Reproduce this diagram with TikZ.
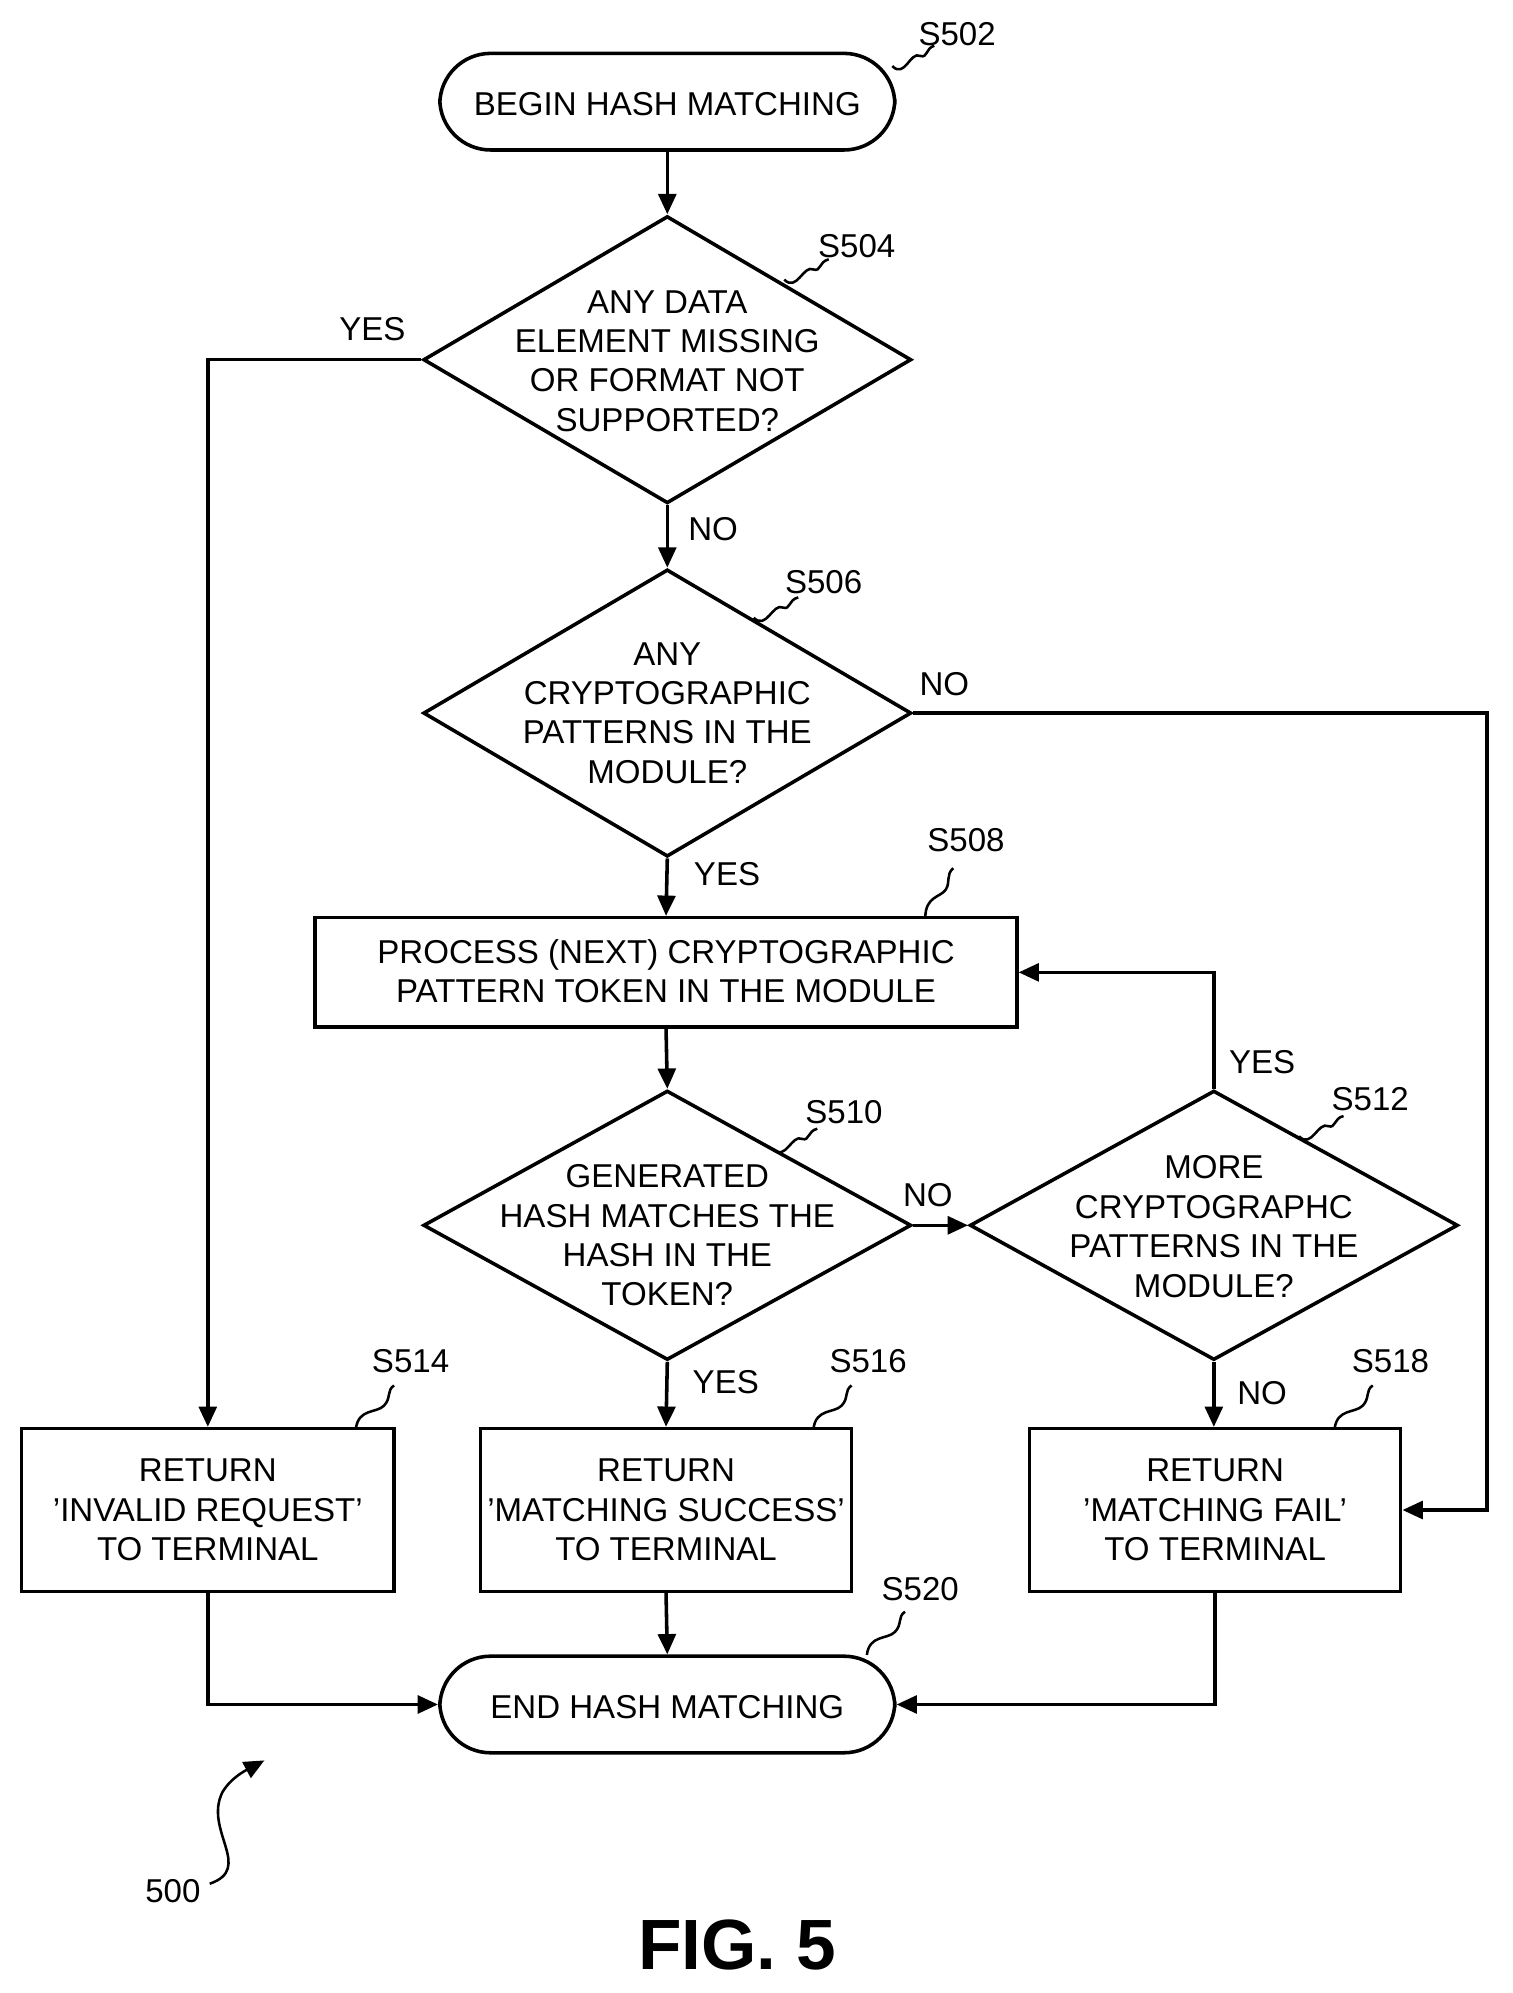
\documentclass[tikz,border=0pt]{standalone}
\usepackage{fontspec}
\setmainfont{Liberation Sans}
\usetikzlibrary{shapes.geometric,arrows.meta}
\begin{document}
\begin{tikzpicture}[x=0.5pt,y=-0.5pt,
 line width=1.4pt,
 txt/.style={font=\fontsize{13}{15.5}\selectfont,align=center,inner sep=0},
 term/.style={draw,rounded corners=20pt,minimum width=179pt,minimum height=38pt,inner sep=0},
 box/.style={draw,inner sep=0},
 dia/.style={draw,diamond,minimum width=192pt,minimum height=113pt,inner sep=0},
 arr/.style={-{Triangle[length=8pt,width=7pt]}},
 lab/.style={font=\fontsize{13}{15}\selectfont,inner sep=0},
 sq/.style={line width=1pt}]
\useasboundingbox (0,0) rectangle (1190,1568);
\node[term] (s502) at (525,80) {};
\node[txt] at (525,82) {BEGIN HASH MATCHING};
\node[dia] (d504) at (525,283) {};
\node[txt] at (525,284) {ANY DATA\\ELEMENT MISSING\\OR FORMAT NOT\\SUPPORTED?};
\node[dia] (d506) at (525,561) {};
\node[txt] at (525,561) {ANY\\CRYPTOGRAPHIC\\PATTERNS IN THE\\MODULE?};
\node[box,minimum width=276pt,minimum height=43pt] (b508) at (524,765) {};
\node[txt] at (524,764) {PROCESS (NEXT) CRYPTOGRAPHIC\\PATTERN TOKEN IN THE MODULE};
\node[dia,minimum height=106pt] (d510) at (525,964) {};
\node[txt] at (525,972) {GENERATED\\HASH MATCHES THE\\HASH IN THE\\TOKEN?};
\node[dia,minimum height=106pt] (d512) at (955,964) {};
\node[txt] at (955,965) {MORE\\CRYPTOGRAPHC\\PATTERNS IN THE\\MODULE?};
\node[box,minimum width=146.5pt,minimum height=64pt] (b514) at (163.5,1188) {};
\node[txt] at (163.5,1188) {RETURN\\'INVALID REQUEST'\\TO TERMINAL};
\node[box,minimum width=146pt,minimum height=64pt] (b516) at (524,1188) {};
\node[txt] at (524,1188) {RETURN\\'MATCHING SUCCESS'\\TO TERMINAL};
\node[box,minimum width=146pt,minimum height=64pt] (b518) at (956,1188) {};
\node[txt] at (956,1188) {RETURN\\'MATCHING FAIL'\\TO TERMINAL};
\node[term] (s520) at (525,1341) {};
\node[txt] at (525,1343) {END HASH MATCHING};
% connectors
\draw[arr] (s502.south) -- (d504.north);
\draw[arr] (d504.south) -- (d506.north);
\draw[arr] (d506.south) -- (b508.north);
\draw[arr] (b508.south) -- (d510.north);
\draw[arr] (d510.south) -- (b516.north);
\draw[arr] (d510.east) -- (d512.west);
\draw[arr] (d512.south) -- (d512.south |- b518.north);
\draw[arr] (d512.north) |- (b508.east);
\draw[arr] (d504.west) -| (b514.north);
\draw[arr] (d506.east) -- (1170,561) |- (b518.east);
\draw[arr] (b516.south) -- (s520.north);
\draw[arr] (b514.south) |- (s520.west);
\draw[arr] (b518.south) |- (s520.east);
% labels
\node[lab] at (293,259) {YES};
\node[lab] at (561,416) {NO};
\node[lab] at (743,538) {NO};
\node[lab] at (572,688) {YES};
\node[lab] at (730,940) {NO};
\node[lab] at (993,836) {YES};
\node[lab] at (993,1096) {NO};
\node[lab] at (571,1087) {YES};
% step labels
\node[lab] at (753,27) {S502};
\draw[sq] (702,52) .. controls (712,62) and (716,40) .. (724,44) .. controls (730,46) and (728,38) .. (735,36);
\node[lab] at (674,194) {S504};
\draw[sq] (617,220) .. controls (627,230) and (632,208) .. (640,212) .. controls (646,214) and (644,206) .. (652,204);
\node[lab] at (648,458) {S506};
\draw[sq] (593,486) .. controls (603,496) and (608,474) .. (616,478) .. controls (622,480) and (620,472) .. (628,470);
\node[lab] at (760,661) {S508};
\draw[sq] (728,722) .. controls (728,705) and (740,706) .. (744,700) .. controls (748,694) and (744,688) .. (750,683);
\node[lab] at (664,875) {S510};
\draw[sq] (608,904) .. controls (618,914) and (623,892) .. (631,896) .. controls (637,898) and (635,890) .. (643,888);
\node[lab] at (1078,865) {S512};
\draw[sq] (1022,894) .. controls (1032,904) and (1037,882) .. (1045,886) .. controls (1051,888) and (1049,880) .. (1057,878);
\node[lab] at (323,1071) {S514};
\draw[sq] (280,1124) .. controls (282,1108) and (296,1112) .. (302,1106) .. controls (308,1100) and (304,1094) .. (310,1090);
\node[lab] at (683,1071) {S516};
\draw[sq] (640,1124) .. controls (642,1108) and (656,1112) .. (662,1106) .. controls (668,1100) and (664,1094) .. (670,1090);
\node[lab] at (1094,1071) {S518};
\draw[sq] (1050,1124) .. controls (1052,1108) and (1066,1112) .. (1072,1106) .. controls (1078,1100) and (1074,1094) .. (1080,1090);
\node[lab] at (724,1250) {S520};
\draw[sq] (682,1302) .. controls (684,1286) and (698,1290) .. (704,1284) .. controls (710,1278) and (706,1272) .. (712,1268);
% 500
\node[lab] (n500) at (136,1488) {500};
\coordinate (a500) at (208,1385);
\draw[sq,-{Triangle[length=8pt,width=7pt]}] (165,1482) .. controls (200,1470) and (160,1440) .. (175,1410) .. controls (182,1398) and (195,1392) .. (a500);
\node[font=\bfseries\fontsize{28}{30}\selectfont,inner sep=0] at (580,1530) {FIG. 5};
\end{tikzpicture}
\end{document}
